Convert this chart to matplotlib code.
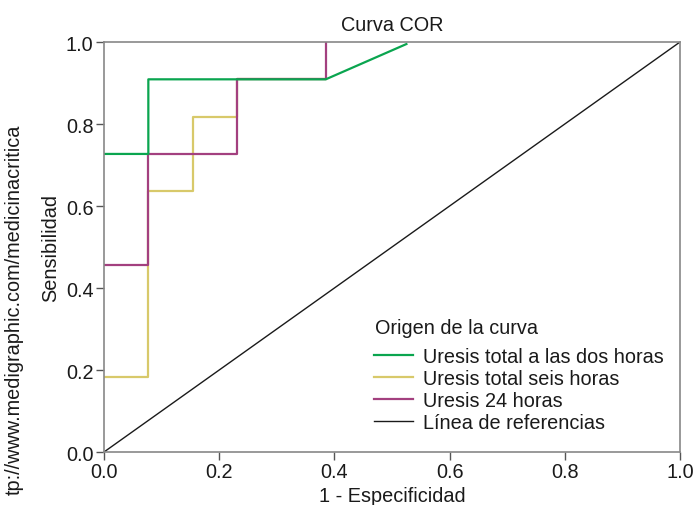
import matplotlib
matplotlib.use("Agg")
import matplotlib.pyplot as plt

plt.rcParams['font.family'] = ['Liberation Sans', 'DejaVu Sans']

# Data
green_x = [0.0, 0.077, 0.077, 0.385, 0.525]
green_y = [0.727, 0.727, 0.909, 0.909, 0.995]
yellow_x = [0.0, 0.077, 0.077, 0.154, 0.154, 0.231, 0.231, 0.385]
yellow_y = [0.182, 0.182, 0.636, 0.636, 0.818, 0.818, 0.909, 0.909]
purple_x = [0.0, 0.077, 0.077, 0.231, 0.231, 0.385, 0.385]
purple_y = [0.455, 0.455, 0.727, 0.727, 0.909, 0.909, 1.0]
ref_x = [0.0, 1.0]
ref_y = [0.0, 1.0]
labels = ["Uresis total a las dos horas", "Uresis total seis horas",
          "Uresis 24 horas", "Línea de referencias"]
legend_title = "Origen de la curva"
ticks = [0.0, 0.2, 0.4, 0.6, 0.8, 1.0]
tick_labels = ["0.0", "0.2", "0.4", "0.6", "0.8", "1.0"]

FS = 14.3

fig = plt.figure(figsize=(6.96, 5.06), dpi=100)
ax = fig.add_axes([0.1494, 0.1047, 0.977 - 0.1494, 0.915 - 0.1047])

l_ref, = ax.plot(ref_x, ref_y, color='#1a1a1a', lw=1.0, zorder=2)
l_y, = ax.plot(yellow_x, yellow_y, color='#d8c96a', lw=1.6, zorder=3)
l_p, = ax.plot(purple_x, purple_y, color='#a3407f', lw=1.6, zorder=4)
l_g, = ax.plot(green_x, green_y, color='#0aa54f', lw=1.6, zorder=5)

ax.set_xlim(0, 1)
ax.set_ylim(0, 1)
ax.set_xticks(ticks)
ax.set_xticklabels(tick_labels)
ax.set_yticks(ticks)
ax.set_yticklabels(tick_labels)
ax.tick_params(axis='both', direction='out', length=6, width=1.0,
               color='#555555', labelsize=FS, labelcolor='#1a1a1a', pad=1.5)
for sp in ax.spines.values():
    sp.set_color('#888888')
    sp.set_linewidth(1.2)
    sp.set_zorder(6)

ax.set_title("Curva COR", fontsize=FS, color='#1a1a1a', pad=9)
ax.set_xlabel("1 - Especificidad", fontsize=FS, color='#1a1a1a', labelpad=3)
ax.set_ylabel("Sensibilidad", fontsize=FS, color='#1a1a1a', labelpad=4)

fig.text(375 / 696, 1 - 328 / 506, legend_title, ha='left', va='center',
         fontsize=FS, color='#1a1a1a')
leg = fig.legend([l_g, l_y, l_p, l_ref], labels,
                 loc='upper left', bbox_to_anchor=(374 / 696, 1 - 348 / 506),
                 frameon=False, fontsize=FS,
                 handlelength=1.95, handletextpad=0.5, labelspacing=0.15,
                 borderpad=0, borderaxespad=0)
for t in leg.get_texts():
    t.set_color('#1a1a1a')

fig.text(14 / 696, 1 - 125 / 506, "tp://www.medigraphic.com/medicinacritica",
         rotation=90, ha='center', va='top', fontsize=14.3, color='#1a1a1a')

fig.savefig("out.png", dpi=100)
